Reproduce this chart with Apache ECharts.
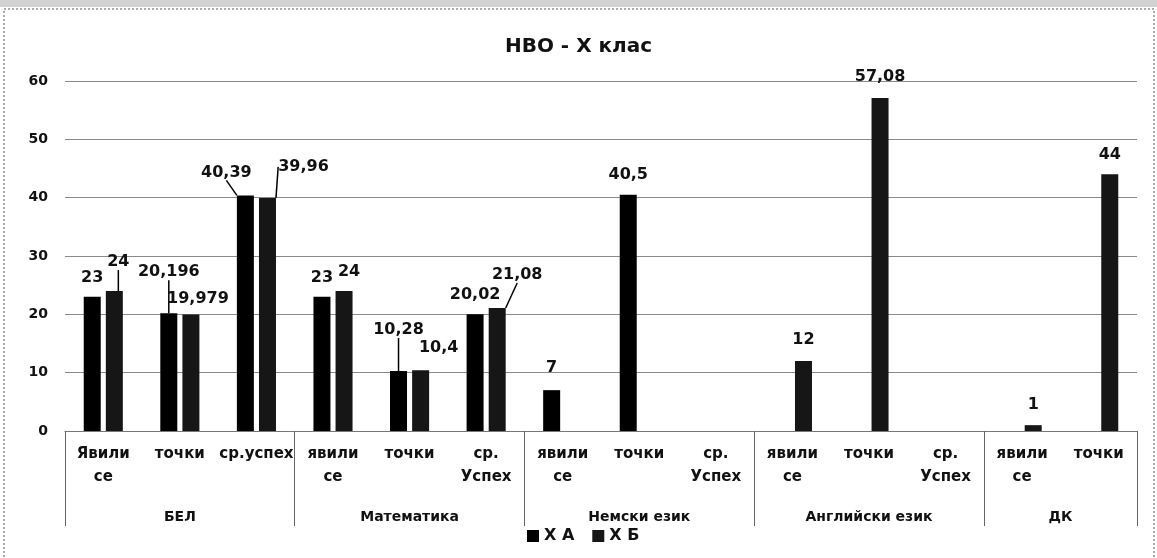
<!DOCTYPE html>
<html>
<head>
<meta charset="utf-8">
<script src="https://cdn.jsdelivr.net/npm/echarts@6/dist/echarts.min.js"></script>
<style>
  html, body { margin: 0; padding: 0; background: #fff; }
  #container { width: 1157px; height: 558px; }
</style>
</head>
<body>
<div id="container"></div>
<script>
window.onload = function () {
    const dom = document.getElementById("container");
    const myChart = echarts.init(dom);

    // подкатегории и групи
    const subLabels = ['Явили\nсе', 'точки', 'ср.успех', 'явили\nсе', 'точки', 'ср.\nУспех',
        'явили\nсе', 'точки', 'ср.\nУспех', 'явили\nсе', 'точки', 'ср.\nУспех', 'явили\nсе', 'точки'];
    const groups = ['БЕЛ', 'Математика', 'Немски език', 'Английски език', 'ДК'];
    const groupSizes = [3, 3, 3, 3, 2];
    const yTicks = [0, 10, 20, 30, 40, 50, 60];

    const seriesNames = ['Х А', 'Х Б'];
    const valuesA = [23, 20.196, 40.39, 23, 10.28, 20.02, 7, 40.5, null, null, null, null, null, null];
    const valuesB = [24, 19.979, 39.96, 24, 10.4, 21.08, null, null, null, 12, 57.08, null, 1, 44];

    // изместване на етикетите (като в Excel)
    const shiftA = [[0, -6], [0, -28], [-19, -10], [0, -6], [0, -28], [0, -6], [0, -9], [0, -7],
        [0, 0], [0, 0], [0, 0], [0, 0], [0, 0], [0, 0]];
    const shiftB = [[4, -16], [7, -3], [36, -18], [5, -6], [18, -9], [20, -20], [0, 0], [0, 0],
        [0, 0], [0, -8], [0, -8], [0, 0], [0, -7], [0, -6]];
    const leaderA = [false, true, true, false, true, false, false, false, false, false, false, false, false, false];
    const leaderB = [true, false, true, false, false, true, false, false, false, false, false, false, false, false];

    // граници и центрове на групите
    const bounds = [];
    const centers = {};
    let acc = 0;
    groups.forEach(function (g, i) {
        bounds.push(acc);
        centers[acc + groupSizes[i] / 2] = g;
        acc += groupSizes[i];
    });

    const font = 'DejaVu Sans';

    function makeData(values, leaders) {
        return values.map(function (v, i) {
            return { value: v, labelLine: { show: leaders[i] } };
        });
    }

    const shifts = [shiftA, shiftB];

    function barLabel() {
        return {
            show: true,
            position: 'top',
            distance: 5,
            fontFamily: font,
            fontSize: 16,
            fontWeight: 'bold',
            color: '#111',
            formatter: function (p) { return String(p.value).replace('.', ','); }
        };
    }

    myChart.setOption({
        animation: false,
        title: {
            text: 'НВО - Х клас',
            left: 'center',
            top: 32,
            textStyle: { fontFamily: font, fontSize: 20, fontWeight: 'bold', color: '#111' }
        },
        legend: {
            data: seriesNames,
            left: 522,
            top: 523,
            itemWidth: 12,
            itemHeight: 12,
            itemGap: 18,
            icon: 'rect',
            textStyle: { fontFamily: font, fontSize: 16, fontWeight: 'bold', color: '#111' }
        },
        graphic: [{
            type: 'rect',
            shape: { x: 4, y: 9, width: 1150, height: 560 },
            style: { fill: 'none', stroke: '#aaa', lineWidth: 2, lineDash: [2, 2] },
            silent: true
        }, {
            type: 'rect',
            shape: { x: 0, y: 0, width: 1157, height: 7 },
            style: { fill: '#d2d2d2' },
            silent: true
        }],
        grid: { left: 65, right: 20, top: 81, bottom: 127 },
        xAxis: [{
            type: 'category',
            data: subLabels,
            axisLine: { lineStyle: { color: '#777', width: 1 } },
            axisTick: {
                show: true,
                length: 95,
                interval: function (index) { return bounds.indexOf(index) >= 0; },
                lineStyle: { color: '#666', width: 1 }
            },
            axisLabel: {
                interval: 0,
                margin: 12,
                lineHeight: 23,
                fontFamily: font,
                fontSize: 15,
                fontWeight: 'bold',
                color: '#111'
            }
        }, {
            type: 'value',
            position: 'bottom',
            offset: 70,
            min: 0,
            max: acc,
            interval: 0.5,
            axisLine: { show: false },
            axisTick: { show: false },
            splitLine: { show: false },
            axisLabel: {
                margin: 9,
                fontFamily: font,
                fontSize: 14,
                fontWeight: 'bold',
                color: '#111',
                formatter: function (v) { return centers[v] || ''; }
            }
        }],
        yAxis: {
            type: 'value',
            min: yTicks[0],
            max: yTicks[yTicks.length - 1],
            interval: 10,
            axisLine: { show: false },
            axisTick: { show: false },
            splitLine: { lineStyle: { color: '#8a8a8a', width: 1 } },
            axisLabel: { margin: 17, fontFamily: font, fontSize: 14, fontWeight: 'bold', color: '#111' }
        },
        labelLayout: function (params) {
            const s = shifts[params.seriesIndex][params.dataIndex];
            return { dx: s[0], dy: s[1] };
        },
        series: [{
            name: seriesNames[0],
            type: 'bar',
            data: makeData(valuesA, leaderA),
            barWidth: 17,
            barGap: '30%',
            itemStyle: { color: '#000' },
            label: barLabel(),
            labelLine: { lineStyle: { color: '#000', width: 1.5 } }
        }, {
            name: seriesNames[1],
            type: 'bar',
            data: makeData(valuesB, leaderB),
            barWidth: 17,
            barGap: '30%',
            itemStyle: { color: '#161616' },
            label: barLabel(),
            labelLine: { lineStyle: { color: '#000', width: 1.5 } }
        }]
    });
};
</script>
</body>
</html>
